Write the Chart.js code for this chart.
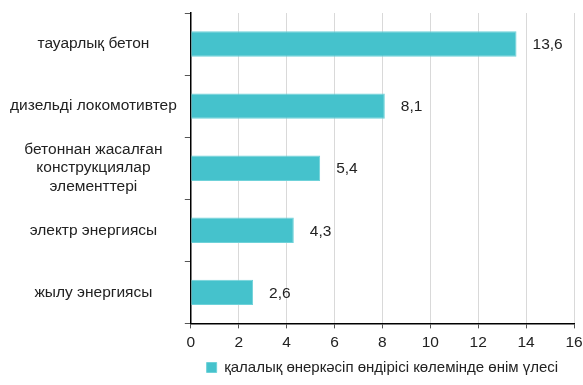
<!DOCTYPE html>
<html>
<head>
<meta charset="utf-8">
<script src="https://cdn.jsdelivr.net/npm/chart.js@4"></script>
<style>
  html, body { margin: 0; padding: 0; background: #fff; }
  #wrap { width: 583px; height: 385px; position: relative; }
</style>
</head>
<body>
<div id="wrap"><canvas id="c"></canvas></div>
<script>
// санаттар мен мәндер
const categories = [
  'тауарлық бетон',
  'дизельді локомотивтер',
  ['бетоннан жасалған', 'конструкциялар', 'элементтері'],
  'электр энергиясы',
  'жылу энергиясы'
];
const shares = [13.6, 8.1, 5.4, 4.3, 2.6];
const seriesName = 'қалалық өнеркәсіп өндірісі көлемінде өнім үлесі';
const xTicks = [0, 2, 4, 6, 8, 10, 12, 14, 16];

const fmt = (v) => String(v).replace('.', ',');
const FONT = "'Liberation Sans', Arial, sans-serif";
const FS = 15.5;

// мән жазуларын бағанның оң жағына саламыз
const valueLabels = {
  id: 'valueLabels',
  afterDatasetsDraw(chart) {
    const ctx = chart.ctx;
    const meta = chart.getDatasetMeta(0);
    ctx.save();
    ctx.font = FS + 'px ' + FONT;
    ctx.fillStyle = '#222';
    ctx.textBaseline = 'middle';
    ctx.textAlign = 'left';
    meta.data.forEach((bar, i) => {
      ctx.fillText(fmt(shares[i]), bar.x + 16, bar.y + 1);
    });
    ctx.restore();
  }
};

new Chart(document.getElementById('c').getContext('2d'), {
  type: 'bar',
  data: {
    labels: categories,
    datasets: [{
      label: seriesName,
      data: shares,
      backgroundColor: '#45c2cc',
      borderColor: '#6fd2d9',
      borderWidth: 1,
      categoryPercentage: 1,
      barPercentage: 0.41
    }]
  },
  options: {
    indexAxis: 'y',
    responsive: true, maintainAspectRatio: false,
    animation: false,
    layout: { padding: { top: 13, right: 0, left: 2, bottom: 0 } },
    plugins: {
      legend: {
        position: 'bottom',
        fullSize: false,
        labels: { boxWidth: 10, boxHeight: 10, padding: 3, color: '#222', font: { size: 15, family: FONT } }
      },
      tooltip: { enabled: false }
    },
    scales: {
      x: {
        min: 0, max: 16,
        afterBuildTicks: (s) => { s.ticks = xTicks.map(v => ({ value: v })); },
        afterFit: (s) => { s.paddingRight = 9; },
        ticks: { color: '#222', font: { size: FS, family: FONT }, padding: 5, maxRotation: 0 },
        grid: { color: '#d9d9d9', tickColor: '#555', tickLength: 5, drawOnChartArea: true },
        border: { color: '#000', width: 1.5 }
      },
      y: {
        afterFit: (s) => { s.paddingTop = 0; s.paddingBottom = 0; },
        ticks: { color: '#222', font: { size: FS, family: FONT }, crossAlign: 'center', padding: 8 },
        grid: { offset: true, drawOnChartArea: false, tickColor: '#555', tickLength: 6 },
        border: { color: '#000', width: 1.5 }
      }
    }
  },
  plugins: [valueLabels]
});
</script>
</body>
</html>
